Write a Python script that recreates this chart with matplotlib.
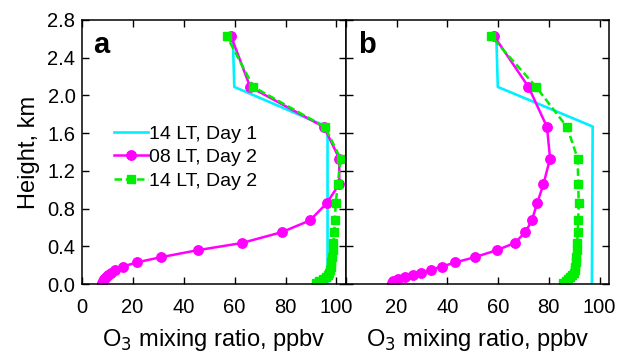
import numpy as np
import matplotlib.pyplot as plt

plt.rcParams['font.family'] = ['Liberation Sans', 'DejaVu Sans']

# model levels (km) shared by the day-2 profiles
height = [0.01, 0.03, 0.05, 0.07, 0.095, 0.12, 0.15, 0.185, 0.23, 0.285,
          0.36, 0.435, 0.55, 0.675, 0.855, 1.06, 1.33, 1.665, 2.09, 2.63]

# panel a
day1_a_x = [96.5, 96.5, 96.1, 59.9, 59.3]
day1_a_y = [0.0, 1.62, 1.67, 2.09, 2.64]
d2_08_a = [7.9, 8.3, 8.8, 9.6, 10.5, 11.5, 13.0, 16.1, 21.6, 31.1,
           45.7, 62.8, 78.5, 89.6, 96.1, 101.1, 101.1, 95.1, 66.1, 58.6]
d2_14_a = [92.0, 93.0, 94.6, 96.0, 96.8, 97.2, 97.5, 97.8, 98.0, 98.3,
           98.5, 98.8, 99.1, 99.4, 99.7, 100.5, 101.6, 95.5, 67.4, 56.9]

# panel b
day1_b_x = [97.0, 97.3, 59.9, 59.3]
day1_b_y = [0.0, 1.67, 2.09, 2.64]
d2_08_b = [18.0, 18.7, 20.6, 23.3, 26.5, 29.8, 33.5, 37.7, 43.2, 50.8,
           59.6, 66.5, 70.8, 73.3, 75.4, 77.9, 80.5, 79.3, 72.0, 58.4]
d2_14_b = [85.5, 86.6, 87.6, 88.5, 89.2, 89.8, 90.2, 90.4, 90.6, 90.8,
           91.0, 91.2, 91.4, 91.6, 91.8, 91.6, 91.4, 87.2, 75.0, 57.2]

cyan = '#00f0ff'
mag = '#ff00ff'
grn = '#00ee00'

fig = plt.figure(figsize=(6.21, 3.56), dpi=100)
axa = fig.add_axes([0.1315, 0.202, 0.4255, 0.742])
axb = fig.add_axes([0.557, 0.202, 0.4235, 0.742])

panels = [(axa, 'a', day1_a_x, day1_a_y, d2_08_a, d2_14_a),
          (axb, 'b', day1_b_x, day1_b_y, d2_08_b, d2_14_b)]
for ax, lab, cx, cy, m, g in panels:
    ax.plot(cx, cy, color=cyan, lw=1.9, label='14 LT, Day 1')
    ax.plot(m, height, color=mag, lw=1.8, marker='o', ms=6.8, label='08 LT, Day 2')
    ax.plot(g, height, color=grn, lw=1.8, ls=(0, (3, 1.5)), marker='s', ms=5.3,
            label='14 LT, Day 2')
    ax.set_xlim(0, 103.7)
    ax.set_ylim(0, 2.8)
    ax.set_xticks([0, 20, 40, 60, 80, 100])
    ax.set_yticks(np.arange(0, 2.81, 0.4))
    ax.tick_params(direction='in', top=True, right=True, labelsize=14.5,
                   length=5, width=1)
    ax.tick_params(axis='x', pad=10)
    ax.tick_params(axis='y', pad=4.5)
    ax.set_xlabel('O$_3$ mixing ratio, ppbv', fontsize=17, labelpad=7)
    ax.text(0.045, 0.96, lab, transform=ax.transAxes, fontsize=21,
            fontweight='bold', va='top', ha='left')
    for s in ax.spines.values():
        s.set_linewidth(1.1)

axa.set_yticklabels([f'{v:.1f}' for v in np.arange(0, 2.81, 0.4)])
axa.set_ylabel('Height, km', fontsize=17, labelpad=5)
axb.set_xticklabels(['', '20', '40', '60', '80', '100'])
axb.tick_params(labelleft=False)

axa.legend(loc='upper left', bbox_to_anchor=(0.123, 0.602), frameon=False,
           fontsize=14, handlelength=1.75, handletextpad=0.05, labelspacing=0.3,
           borderpad=0, borderaxespad=0)

fig.savefig('out.png', dpi=100)
